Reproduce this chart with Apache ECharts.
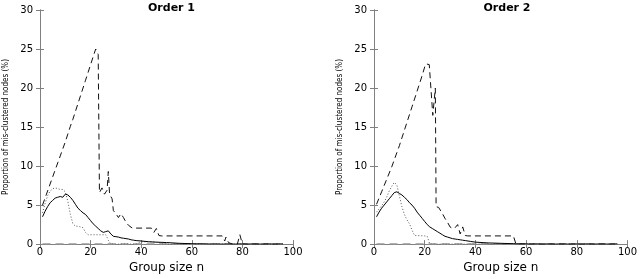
<!DOCTYPE html>
<html>
<head>
<meta charset="utf-8">
<script src="https://cdn.jsdelivr.net/npm/echarts@6/dist/echarts.min.js"></script>
<style>html,body{margin:0;padding:0;background:#fff;}#c{width:640px;height:279px;}</style>
</head>
<body>
<div id="c"></div>
<script>
// ---- data (group size n, proportion %) ----
const panelTitles = ['Order 1', 'Order 2'];
const xTicks = [0, 20, 40, 60, 80, 100];
const yTicks = [0, 5, 10, 15, 20, 25, 30];

const order1Dashed = [[1,5.0],[2,5.9],[3,6.8],[4,7.7],[5,8.6],[6,9.5],[7,10.4],[8,11.3],[9,12.2],[10,13.1],[11,14.1],[12,15.1],[13,16.0],[14,17.0],[15,18.0],[16,19.0],[17,20.0],[18,21.0],[19,22.0],[20,23.0],[21,24.0],[22,25.0],[23,24.3],[23.5,6.6],[24.5,7.2],[25.5,6.4],[26.5,6.9],[27,9.3],[27.5,6.4],[28.5,5.8],[29,4.3],[30,3.9],[31,3.4],[32,3.9],[33,3.4],[34,2.8],[35,2.4],[36.5,2.05],[44,2.05],[45,1.5],[46,2.0],[47,1.1],[48,1.05],[72,1.05],[73,0.4],[73.5,0.9],[74.5,0.2],[76,0],[78,0],[79,1.2],[80,0],[96,0]];
const order1Solid = [[1,3.5],[2,4.2],[3,4.8],[4,5.3],[5,5.6],[6,5.9],[7,6.0],[8,6.1],[9,6.0],[10,6.4],[11,6.3],[12,6.0],[13,5.6],[14,5.1],[15,4.6],[16,4.3],[17,4.0],[18,3.8],[19,3.4],[20,3.0],[21,2.6],[22,2.3],[23,2.0],[24,1.7],[25,1.5],[26,1.6],[27,1.7],[28,1.3],[29,1.0],[30,0.95],[31,0.9],[32,0.8],[33,0.75],[34,0.7],[35,0.65],[36,0.55],[37,0.5],[38,0.45],[40,0.4],[43,0.3],[46,0.25],[50,0.2],[55,0.1],[60,0.05],[65,0.02],[70,0],[96,0]];
const order1Dotted = [[1,4.0],[2,5.2],[3,6.2],[4,6.8],[5,7.1],[6,7.2],[7,7.1],[8,7.0],[9,7.0],[10,6.7],[11,5.5],[12,3.8],[13,2.6],[14,2.3],[15,2.3],[16,2.2],[17,2.1],[18,1.5],[19,1.2],[26,1.2],[27,0.5],[28,0],[38,0],[40,0.3],[44,0.3],[47,0.2],[48,0],[96,0]];
const order1Zero = [[1,0],[96,0]];

const order2Dashed = [[1,5.1],[2,5.9],[3,6.7],[4,7.5],[5,8.3],[6,9.1],[7,9.9],[8,10.8],[9,11.7],[10,12.6],[11,13.6],[12,14.6],[13,15.6],[14,16.6],[15,17.6],[16,18.6],[17,19.6],[18,20.6],[19,21.6],[20,22.7],[20.5,23.1],[21.8,23.0],[23.2,16.5],[24.2,20.0],[24.5,4.8],[25.5,4.7],[26,4.5],[27,3.9],[28,3.3],[29,2.8],[30,2.2],[31,2.0],[32,2.1],[33,2.5],[34,1.3],[35,2.2],[36,1.1],[37,1.05],[55,1.05],[56,0],[96,0]];
const order2Solid = [[1,3.5],[2,4.1],[3,4.6],[4,5.0],[5,5.4],[6,5.8],[7,6.2],[8,6.6],[9,6.7],[10,6.5],[11,6.3],[12,6.0],[13,5.7],[14,5.3],[15,5.0],[16,4.6],[17,4.1],[18,3.7],[19,3.3],[20,2.9],[21,2.5],[22,2.2],[23,2.0],[24,1.8],[25,1.6],[26,1.4],[27,1.2],[28,1.0],[29,0.9],[30,0.8],[31,0.7],[32,0.65],[33,0.6],[34,0.55],[35,0.5],[36,0.45],[38,0.35],[40,0.25],[45,0.15],[50,0.1],[55,0.05],[60,0.02],[65,0],[96,0]];
const order2Dotted = [[1,4.1],[2,4.5],[3,4.9],[4,5.4],[5,6.0],[6,6.8],[7,7.4],[8,7.9],[9,7.6],[10,6.2],[11,4.8],[12,3.8],[13,3.1],[14,2.6],[15,1.8],[16,1.1],[20,1.05],[21,1.0],[22,0],[96,0]];
const order2Zero = [[1,0],[96,0]];

const panels = [
  {dashed: order1Dashed, solid: order1Solid, dotted: order1Dotted, zero: order1Zero},
  {dashed: order2Dashed, solid: order2Solid, dotted: order2Dotted, zero: order2Zero}
];

// ---- layout ----
const grids = [
  {left: 40, top: 10, width: 253, height: 247},
  {left: 374, top: 10, width: 256, height: 247}
];
const FONT = 'DejaVu Sans';
const frameColor = '#808080';

const xAxes = [], yAxes = [], series = [], titles = [];
grids.forEach((g, i) => {
  xAxes.push({
    gridIndex: i, type: 'value', min: xTicks[0], max: xTicks[xTicks.length-1], interval: 20,
    name: 'Group size n', nameLocation: 'middle', nameGap: 12,
    nameTextStyle: {fontFamily: FONT, fontSize: 12, color: '#000'},
    axisLine: {show: true, lineStyle: {color: frameColor, width: 1}},
    axisTick: {show: true, inside: true, length: 4, lineStyle: {color: frameColor}},
    axisLabel: {fontFamily: FONT, fontSize: 10, color: '#000', margin: 3},
    splitLine: {show: false}
  });
  xAxes.push({
    gridIndex: i, type: 'value', position: 'top', min: xTicks[0], max: xTicks[xTicks.length-1], interval: 20,
    axisLine: {show: true, lineStyle: {color: frameColor, width: 1}},
    axisTick: {show: true, inside: true, length: 4, lineStyle: {color: frameColor}},
    axisLabel: {show: false}, splitLine: {show: false}
  });
  yAxes.push({
    gridIndex: i, type: 'value', min: yTicks[0], max: yTicks[yTicks.length-1], interval: 5,
    name: 'Proportion of mis-clustered nodes (%)', nameLocation: 'middle', nameGap: 30, nameRotate: 90,
    nameTextStyle: {fontFamily: 'DejaVu Sans Condensed, Liberation Sans', fontSize: 8, color: '#000'},
    axisLine: {show: true, lineStyle: {color: frameColor, width: 1}},
    axisTick: {show: true, inside: true, length: 4, lineStyle: {color: frameColor}},
    axisLabel: {fontFamily: FONT, fontSize: 10, color: '#000', margin: 7},
    splitLine: {show: false}
  });
  yAxes.push({
    gridIndex: i, type: 'value', position: 'right', min: yTicks[0], max: yTicks[yTicks.length-1], interval: 5,
    axisLine: {show: true, lineStyle: {color: frameColor, width: 1}},
    axisTick: {show: true, inside: true, length: 4, lineStyle: {color: frameColor}},
    axisLabel: {show: false}, splitLine: {show: false}
  });
  titles.push({
    text: panelTitles[i], left: g.left + g.width / 2, top: -2, textAlign: 'center',
    textStyle: {fontFamily: FONT, fontSize: 11, fontWeight: 'bold', color: '#000'}
  });
  const p = panels[i];
  const base = {type: 'line', xAxisIndex: i * 2, yAxisIndex: i * 2, showSymbol: false, symbol: 'none', silent: true, animation: false};
  series.push(Object.assign({}, base, {data: p.zero, lineStyle: {color: '#999', width: 1.5, type: [8, 5]}}));
  series.push(Object.assign({}, base, {data: p.dotted, lineStyle: {color: '#555', width: 1, type: [1, 2]}}));
  series.push(Object.assign({}, base, {data: p.solid, lineStyle: {color: '#000', width: 1, type: 'solid'}}));
  series.push(Object.assign({}, base, {data: p.dashed, lineStyle: {color: '#111', width: 1, type: [6, 4]}}));
});

const chart = echarts.init(document.getElementById('c'), null, {renderer: 'canvas'});
chart.setOption({
  animation: false,
  backgroundColor: '#fff',
  title: titles,
  grid: grids,
  xAxis: xAxes,
  yAxis: yAxes,
  series: series
});
</script>
</body>
</html>
